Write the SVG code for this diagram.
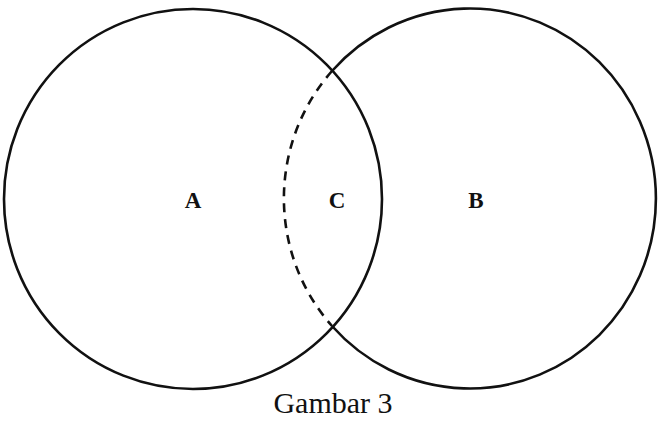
<svg xmlns="http://www.w3.org/2000/svg" width="660" height="423" viewBox="0 0 660 423">
  <style>
    .ln { fill: none; stroke: #111; stroke-width: 2.6; }
    .dash { fill: none; stroke: #111; stroke-width: 2.6; stroke-dasharray: 9 7; }
    .lbl { font-family: "Liberation Serif", "Times New Roman", serif; font-weight: bold; font-size: 23px; fill: #111; text-anchor: middle; }
    .cap { font-family: "Liberation Serif", "Times New Roman", serif; font-size: 30px; fill: #111; text-anchor: middle; }
  </style>
  <rect width="660" height="423" fill="#fff"/>
  <g id="setA">
    <ellipse class="ln" cx="193" cy="199" rx="189" ry="190"/>
    <text class="lbl" x="193" y="208">A</text>
  </g>
  <g id="setB">
    <path class="ln" d="M 332 71 A 186 190 0 1 1 332 326"/>
    <text class="lbl" x="476" y="208">B</text>
  </g>
  <g id="connectors">
    <path class="dash" d="M 332 71 A 186 190 0 0 0 332 326"/>
  </g>
  <g id="intersection">
    <text class="lbl" x="337" y="208">C</text>
  </g>
  <text class="cap" x="333" y="413">Gambar 3</text>
</svg>
